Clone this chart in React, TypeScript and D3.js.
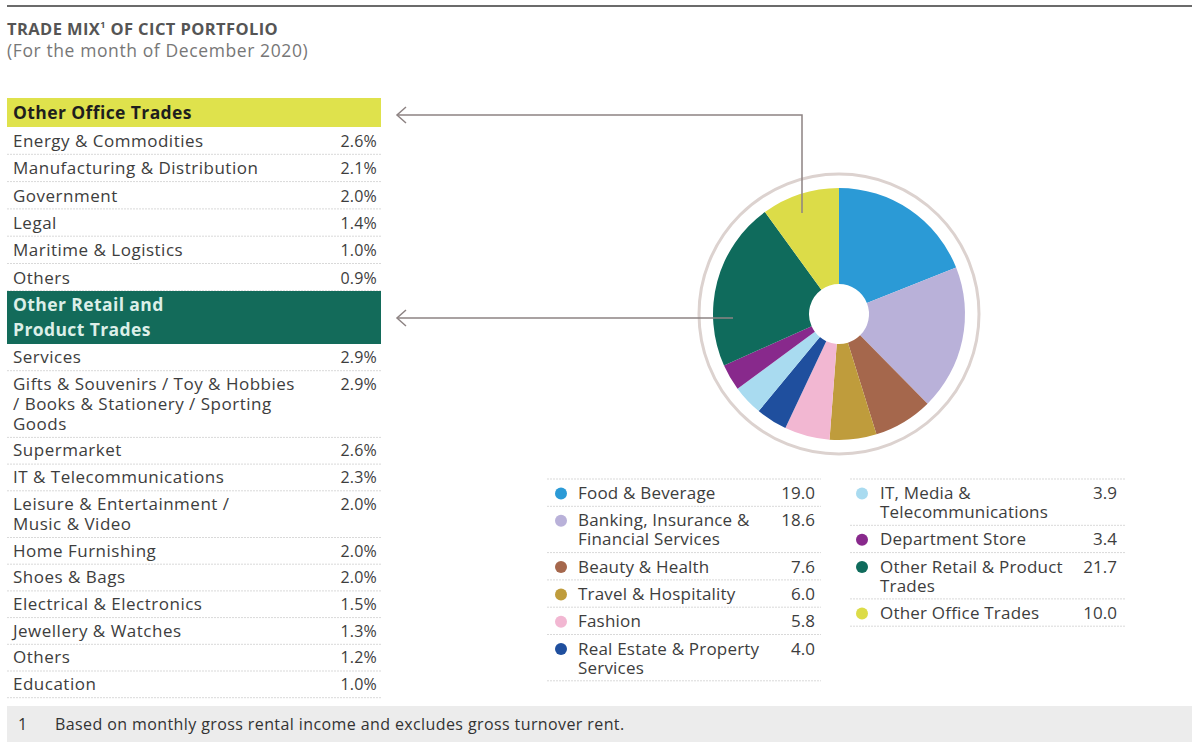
import React from "react";
import * as d3 from "d3";

const officeLabels = ["Energy & Commodities", "Manufacturing & Distribution", "Government", "Legal", "Maritime & Logistics", "Others"];
const officeValues = [2.6, 2.1, 2.0, 1.4, 1.0, 0.9];

const retailLabels = [
  "Services",
  "Gifts & Souvenirs / Toy & Hobbies\n/ Books & Stationery / Sporting\nGoods",
  "Supermarket",
  "IT & Telecommunications",
  "Leisure & Entertainment /\nMusic & Video",
  "Home Furnishing",
  "Shoes & Bags",
  "Electrical & Electronics",
  "Jewellery & Watches",
  "Others",
  "Education",
];
const retailValues = [2.9, 2.9, 2.6, 2.3, 2.0, 2.0, 2.0, 1.5, 1.3, 1.2, 1.0];

const tradeCategories = [
  "Food & Beverage",
  "Banking, Insurance &\nFinancial Services",
  "Beauty & Health",
  "Travel & Hospitality",
  "Fashion",
  "Real Estate & Property\nServices",
  "IT, Media &\nTelecommunications",
  "Department Store",
  "Other Retail & Product\nTrades",
  "Other Office Trades",
];
const tradeValues = [19.0, 18.6, 7.6, 6.0, 5.8, 4.0, 3.9, 3.4, 21.7, 10.0];
const tradeColors = ["#2b9ad6", "#b9b1d9", "#a5674c", "#bf9c3c", "#f2b7d2", "#1f4f9e", "#a9dbf0", "#88298c", "#0f6b5c", "#dcdc48"];

const FONT = "'Open Sans', 'DejaVu Sans', sans-serif";
const TEXT = "#3d3d3d";
const SEP = "#d9d9d9";

function Rows({ labels, values, x0, x1, top, rowH, extraH, labelX, valueX, suffix, baseOff }) {
  let y = top;
  const out = [];
  labels.forEach((lab, i) => {
    const lines = lab.split("\n");
    const h = rowH + (lines.length - 1) * extraH;
    out.push(
      <g key={i}>
        <text x={labelX} y={y + baseOff} fontSize={17} letterSpacing={0.5} fill={TEXT} fontFamily={FONT}>
          {lines.map((l, j) => (
            <tspan key={j} x={labelX} dy={j === 0 ? 0 : extraH}>{l}</tspan>
          ))}
        </text>
        <text x={valueX} y={y + baseOff} fontSize={16} letterSpacing={0.2} fill={TEXT} fontFamily={FONT} textAnchor="end">
          {values[i].toFixed(1) + suffix}
        </text>
        <line x1={x0} x2={x1} y1={y + h} y2={y + h} stroke={SEP} strokeWidth={1} strokeDasharray="2,1" />
      </g>
    );
    y += h;
  });
  return <g>{out}</g>;
}

function Legend({ cats, vals, cols, x0, x1, top, dotX, labelX, valueX }) {
  let y = top;
  const rowH = 27.3, extraH = 19;
  const out = [];
  cats.forEach((c, i) => {
    const lines = c.split("\n");
    const h = rowH + (lines.length - 1) * extraH;
    out.push(
      <g key={i}>
        <circle cx={dotX} cy={y + 14.5} r={6} fill={cols[i]} />
        <text x={labelX} y={y + 20} fontSize={17} letterSpacing={0.2} fill={TEXT} fontFamily={FONT}>
          {lines.map((l, j) => (
            <tspan key={j} x={labelX} dy={j === 0 ? 0 : extraH}>{l}</tspan>
          ))}
        </text>
        <text x={valueX} y={y + 20} fontSize={17} fill={TEXT} fontFamily={FONT} textAnchor="end">
          {vals[i].toFixed(1)}
        </text>
        <line x1={x0} x2={x1} y1={y + h} y2={y + h} stroke={SEP} strokeWidth={1} strokeDasharray="2,1" />
      </g>
    );
    y += h;
  });
  return (
    <g>
      <line x1={x0} x2={x1} y1={top} y2={top} stroke={SEP} strokeWidth={1} strokeDasharray="2,1" />
      {out}
    </g>
  );
}

export default function App() {
  const cx = 839, cy = 314;
  const pie = d3.pie<number>().sort(null).value((d) => d)(tradeValues);
  const arc = d3.arc<d3.PieArcDatum<number>>().innerRadius(30).outerRadius(126);
  const arrowColor = "#8d8383";
  const chevron = (x, y) => `M${x + 9},${y - 8} L${x},${y} L${x + 9},${y + 8}`;

  return (
    <svg width={1192} height={742} style={{ position: "absolute", left: 0, top: 0, background: "#fff" }}>
      <line x1={7} x2={1192} y1={6} y2={6} stroke="#6b6b6b" strokeWidth={2} />
      <text x={7} y={35} fontSize={16.5} letterSpacing={0.4} fontWeight={700} fill="#555" fontFamily={FONT}>
        TRADE MIX<tspan fontSize={9} dy={-7}>1</tspan><tspan dy={7}> OF CICT PORTFOLIO</tspan>
      </text>
      <text x={7} y={57} fontSize={17.5} letterSpacing={0.6} fill="#777" fontFamily={FONT}>(For the month of December 2020)</text>

      {/* Other Office Trades header */}
      <rect x={7} y={98} width={374} height={29} fill="#dfe24c" />
      <text x={13} y={119} fontSize={17.5} letterSpacing={0.4} fontWeight={700} fill="#1e1e1e" fontFamily={FONT}>Other Office Trades</text>
      <Rows labels={officeLabels} values={officeValues} x0={7} x1={381} top={127} rowH={27.3} extraH={20}
        labelX={13} valueX={377} suffix="%" baseOff={20} />

      {/* Other Retail header */}
      <rect x={7} y={291} width={374} height={53} fill="#136b5a" />
      <text x={13} y={311} fontSize={17.5} letterSpacing={0.4} fontWeight={700} fill="#dcefe8" fontFamily={FONT}>
        <tspan x={13}>Other Retail and</tspan>
        <tspan x={13} dy={25}>Product Trades</tspan>
      </text>
      <Rows labels={retailLabels} values={retailValues} x0={7} x1={381} top={344} rowH={26.7} extraH={20}
        labelX={13} valueX={377} suffix="%" baseOff={19} />

      {/* Pie */}
      <circle cx={cx} cy={cy} r={140} fill="none" stroke="#dcd2cf" strokeWidth={3} />
      <g transform={`translate(${cx},${cy})`}>
        {pie.map((p, i) => (
          <path key={i} d={arc(p) || ""} fill={tradeColors[i]} />
        ))}
      </g>

      {/* Arrows */}
      <path d={`M802,213 L802,115 L398,115`} fill="none" stroke={arrowColor} strokeWidth={1.5} />
      <path d={chevron(397, 115)} fill="none" stroke={arrowColor} strokeWidth={1.5} />
      <path d={`M733,318 L398,318`} fill="none" stroke={arrowColor} strokeWidth={1.5} />
      <path d={chevron(397, 318)} fill="none" stroke={arrowColor} strokeWidth={1.5} />

      {/* Legend */}
      <Legend cats={tradeCategories.slice(0, 6)} vals={tradeValues.slice(0, 6)} cols={tradeColors.slice(0, 6)}
        x0={547} x1={821} top={479} dotX={561} labelX={578} valueX={815} />
      <Legend cats={tradeCategories.slice(6)} vals={tradeValues.slice(6)} cols={tradeColors.slice(6)}
        x0={850} x1={1125} top={479} dotX={862} labelX={880} valueX={1117} />

      {/* Footnote */}
      <rect x={7} y={706} width={1185} height={36} fill="#ececec" />
      <text x={18} y={730} fontSize={16} fill="#333" fontFamily={FONT}>1</text>
      <text x={55} y={730} fontSize={16} letterSpacing={0.4} fill="#333" fontFamily={FONT}>Based on monthly gross rental income and excludes gross turnover rent.</text>
    </svg>
  );
}
